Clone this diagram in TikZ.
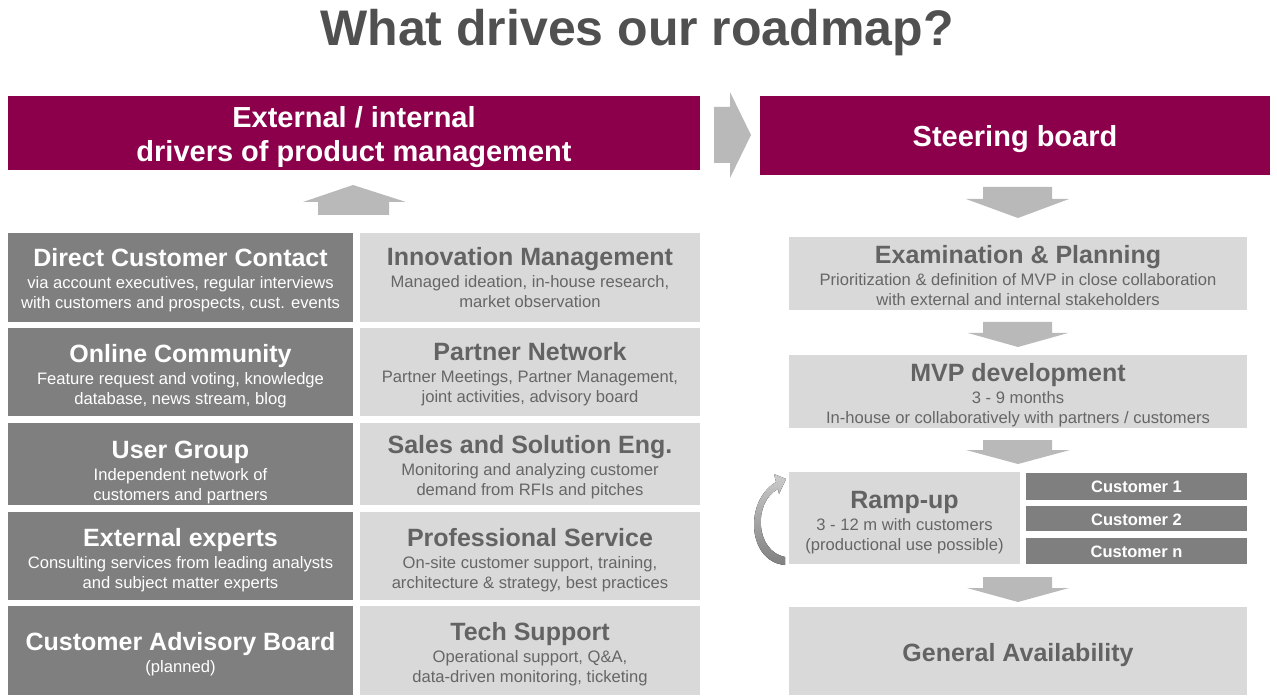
\documentclass[tikz,border=0pt]{standalone}
\usepackage{fontspec}
\setmainfont{Liberation Sans}
\definecolor{magentaH}{HTML}{8C004B}
\definecolor{cellDark}{HTML}{7F7F7F}
\definecolor{cellLight}{HTML}{D9D9D9}
\definecolor{arrowGray}{HTML}{B9B9B9}
\definecolor{titleGray}{HTML}{505050}
\definecolor{lightTitle}{HTML}{636363}
\definecolor{lightText}{HTML}{666666}
\newcommand\ttlfont{\fontsize{25}{28}\selectfont\bfseries}
\newcommand\bdyfont{\fontsize{16.6}{20}\selectfont}
\begin{document}
\begin{tikzpicture}[x=1pt,y=-1pt,
  cellbase/.style={inner sep=0pt, outer sep=0pt, anchor=north west},
  darkcell/.style={cellbase, fill=cellDark},
  lightcell/.style={cellbase, fill=cellLight},
  hdrbox/.style={cellbase, fill=magentaH},
  txtbase/.style={inner sep=0pt, align=center, font=\bdyfont},
  darktext/.style={txtbase, text=white},
  lighttext/.style={txtbase, text=lightText},
  hdrtext/.style={txtbase, text=white, font=\fontsize{29}{34}\selectfont\bfseries},
  custbox/.style={cellbase, fill=cellDark, minimum width=221pt},
  custtext/.style={txtbase, text=white, font=\fontsize{16.5}{20}\selectfont\bfseries},
  blockarrow/.style={fill=arrowGray}
]
\useasboundingbox[fill=white] (0,0) rectangle (1277,700);

% title
\node[font=\fontsize{50}{60}\selectfont\bfseries, text=titleGray, anchor=base, inner sep=0pt] (title) at (637,46) {What drives our roadmap?};

% headers
\node[hdrbox, minimum width=692pt, minimum height=74pt] (hdrL) at (8,96) {};
\node[hdrtext] (hdrL-t) at ([yshift=-4pt]hdrL.center) {External / internal\\drivers of product management};
\node[hdrbox, minimum width=510pt, minimum height=79pt] (hdrR) at (760,96) {};
\node[hdrtext] (hdrR-t) at ([yshift=-4pt]hdrR.center) {Steering board};

% arrow between headers
\fill[blockarrow] (714,107) -- (730,107) -- (730,92) -- (751,135) -- (730,178) -- (730,163) -- (714,163) -- cycle;

% up arrow
\fill[blockarrow] (318,215) -- (318,202) -- (303,202) -- (353,185) -- (406,202) -- (389,202) -- (389,215) -- cycle;

% left grid, column 1
\node[darkcell, minimum width=345pt, minimum height=89pt] (dcc) at (8,233) {};
\node[darktext] (dcc-t) at ([yshift=-3pt]dcc.center)
  {{\ttlfont Direct Customer Contact}\\[2pt]via account executives, regular interviews\\with customers and prospects, cust. events};
\node[darkcell, minimum width=345pt, minimum height=88pt] (oc) at (8,328) {};
\node[darktext] (oc-t) at ([yshift=-4pt]oc.center)
  {{\ttlfont Online Community}\\[2pt]Feature request and voting, knowledge\\database, news stream, blog};
\node[darkcell, minimum width=345pt, minimum height=82pt] (ug) at (8,423) {};
\node[darktext] (ug-t) at ([yshift=-8pt]ug.center)
  {{\ttlfont User Group}\\[2pt]Independent network of\\customers and partners};
\node[darkcell, minimum width=345pt, minimum height=88pt] (ee) at (8,512) {};
\node[darktext] (ee-t) at ([yshift=-4pt]ee.center)
  {{\ttlfont External experts}\\[2pt]Consulting services from leading analysts\\and subject matter experts};
\node[darkcell, minimum width=345pt, minimum height=89pt] (cab) at (8,606) {};
\node[darktext] (cab-t) at ([yshift=-4pt]cab.center)
  {{\ttlfont Customer Advisory Board}\\[2pt](planned)};

% left grid, column 2
\node[lightcell, minimum width=340pt, minimum height=89pt] (im) at (360,233) {};
\node[lighttext] (im-t) at ([yshift=0pt]im.center)
  {{\ttlfont\color{lightTitle}Innovation Management}\\[2pt]Managed ideation, in-house research,\\market observation};
\node[lightcell, minimum width=340pt, minimum height=88pt] (pn) at (360,328) {};
\node[lighttext] (pn-t) at ([yshift=-2pt]pn.center)
  {{\ttlfont\color{lightTitle}Partner Network}\\[2pt]Partner Meetings, Partner Management,\\joint activities, advisory board};
\node[lightcell, minimum width=340pt, minimum height=82pt] (sse) at (360,423) {};
\node[lighttext] (sse-t) at ([yshift=-3pt]sse.center)
  {{\ttlfont\color{lightTitle}Sales and Solution Eng.}\\[2pt]Monitoring and analyzing customer\\demand from RFIs and pitches};
\node[lightcell, minimum width=340pt, minimum height=88pt] (ps) at (360,512) {};
\node[lighttext] (ps-t) at ([yshift=-4pt]ps.center)
  {{\ttlfont\color{lightTitle}Professional Service}\\[2pt]On-site customer support, training,\\architecture \& strategy, best practices};
\node[lightcell, minimum width=340pt, minimum height=89pt] (ts) at (360,606) {};
\node[lighttext] (ts-t) at ([yshift=-4pt]ts.center)
  {{\ttlfont\color{lightTitle}Tech Support}\\[2pt]Operational support, Q\&A,\\data-driven monitoring, ticketing};

% right column
\fill[blockarrow] (983,187) -- (1052,187) -- (1052,199) -- (1069,199) -- (1018,218) -- (966,199) -- (983,199) -- cycle;

\node[lightcell, minimum width=458pt, minimum height=73pt] (exam) at (789,237) {};
\node[lighttext] (exam-t) at ([yshift=-2pt]exam.center)
  {{\ttlfont\color{lightTitle}Examination \& Planning}\\[2pt]Prioritization \& definition of MVP in close collaboration\\with external and internal stakeholders};

\fill[blockarrow] (983,322) -- (1052,322) -- (1052,333) -- (1068,333) -- (1018,347) -- (968,333) -- (983,333) -- cycle;

\node[lightcell, minimum width=458pt, minimum height=73pt] (mvp) at (789,355) {};
\node[lighttext] (mvp-t) at ([yshift=-4pt]mvp.center)
  {{\ttlfont\color{lightTitle}MVP development}\\[2pt]3 - 9 months\\In-house or collaboratively with partners / customers};

\fill[blockarrow] (983,440) -- (1052,440) -- (1052,450) -- (1070,450) -- (1018,464) -- (966,450) -- (983,450) -- cycle;

\node[lightcell, minimum width=231pt, minimum height=92pt] (ramp) at (789,472) {};
\node[lighttext] (ramp-t) at ([yshift=-5pt]ramp.center)
  {{\ttlfont\color{lightTitle}Ramp-up}\\[2pt]3 - 12 m with customers\\(productional use possible)};
\node[custbox, minimum height=27pt] (c1) at (1026,472.5) {};
\node[custtext] (c1-t) at ([yshift=-1pt]c1.center) {Customer 1};
\node[custbox, minimum height=25pt] (c2) at (1026,506) {};
\node[custtext] (c2-t) at ([yshift=-1pt]c2.center) {Customer 2};
\node[custbox, minimum height=26.5pt] (cn) at (1026,537.5) {};
\node[custtext] (cn-t) at ([yshift=-1pt]cn.center) {Customer n};

% curved feedback arrow
\fill[top color=black!20, bottom color=black!50]
  (785,565) .. controls (748,562) and (743,502) .. (776,482)
  -- (774,474) -- (786,479) -- (779,494) -- (778,489)
  .. controls (753,502) and (755,551) .. (785,557) -- cycle;

\fill[blockarrow] (983,577) -- (1052,577) -- (1052,588) -- (1069,588) -- (1018,602) -- (967,588) -- (983,588) -- cycle;

\node[lightcell, minimum width=458pt, minimum height=88pt] (ga) at (789,607) {};
\node[lighttext] (ga-t) at ([yshift=-4pt]ga.center)
  {{\ttlfont\color{lightTitle}General Availability}};
\end{tikzpicture}
\end{document}
